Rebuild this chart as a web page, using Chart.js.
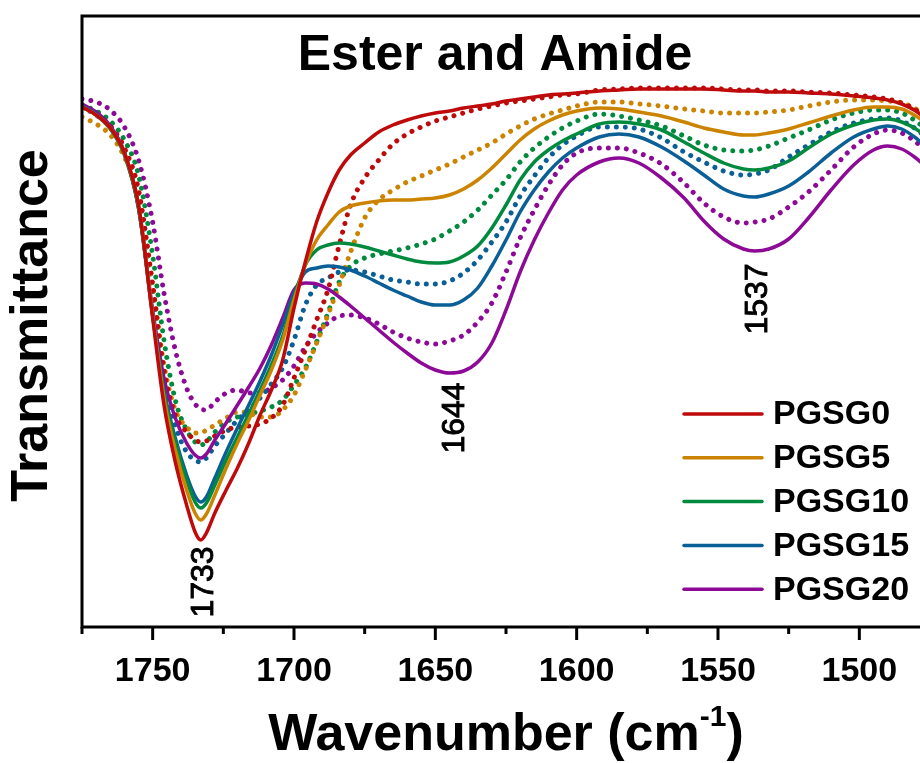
<!DOCTYPE html>
<html>
<head>
<meta charset="utf-8">
<script src="https://cdn.jsdelivr.net/npm/chart.js@4"></script>
<style>
  html, body { margin: 0; padding: 0; background: #fff; overflow: hidden; }
  #wrap { width: 935px; height: 763px; }
</style>
</head>
<body>
<div id="wrap"><canvas id="ftirChart" width="935" height="763"></canvas></div>
<script>
// wavenumbers (cm-1) shared by all spectra
const wavenumbers = [1775, 1770, 1765, 1760, 1755, 1750, 1746, 1742, 1738, 1735,
  1733, 1731, 1728, 1724, 1720, 1716, 1712, 1708, 1704, 1700,
  1696, 1692, 1688, 1684, 1680, 1675, 1670, 1665, 1660, 1655,
  1650, 1645, 1640, 1635, 1630, 1625, 1620, 1615, 1610, 1605,
  1600, 1592, 1585, 1578, 1570, 1562, 1555, 1548, 1541, 1537,
  1532, 1525, 1518, 1510, 1502, 1495, 1490, 1485, 1480, 1476];

// transmittance, arbitrary units (solid lines)
const pgsg0 = [520,512,499,474,422,309,222,165,122,95,87,94,114,137,159,184,212,237,267,319,365,405,434,457,472,484,495,502,507,511,514,516,519,521,523,526,528,530,532,533,534,536,537,538,538,538,538,537,536,536,535,535,534,533,531,529,527,523,516,507];
const pgsg5 = [520,512,499,474,422,312,229,177,137,114,107,113,132,159,184,207,232,257,287,327,362,387,402,415,421,424,426,427,427,428,429,432,438,447,459,473,487,498,506,512,516,519,518,515,511,505,499,495,492,492,494,498,504,511,517,520,520,518,511,503];
const pgsg10 = [520,512,498,472,419,312,234,185,147,125,119,124,142,167,190,213,237,262,291,329,362,377,382,384,383,380,376,372,368,365,364,365,371,381,399,422,447,465,477,486,493,503,505,503,497,485,474,464,458,457,459,466,479,493,502,507,508,505,498,490];
const pgsg15 = [521,513,499,473,419,312,237,189,152,131,125,130,149,175,199,222,246,272,302,334,355,359,361,360,357,351,344,337,331,325,322,322,327,339,361,387,415,437,455,469,479,490,493,490,480,466,452,438,431,430,433,441,455,474,490,498,501,498,489,479];
const pgsg20 = [523,515,501,475,419,317,249,209,184,172,169,173,187,204,222,240,259,282,309,337,344,343,338,330,321,309,297,285,274,264,257,254,256,265,284,317,355,387,414,437,452,465,469,464,449,429,406,388,378,376,378,388,409,437,462,477,481,478,469,459];

// dotted companions
const pgsg0Dot = [520,513,501,479,437,342,257,212,195,187,185,186,191,197,200,201,203,209,222,249,277,307,337,382,422,449,467,483,493,500,506,510,514,518,521,524,526,528,530,532,533,537,538,539,539,539,539,538,537,537,536,536,535,534,532,530,528,524,517,508];
const pgsg5Dot = [510,503,492,470,430,342,262,217,200,194,194,197,202,209,215,214,210,210,217,232,257,284,312,342,375,409,427,437,445,451,457,463,470,477,484,493,501,508,513,517,521,525,525,523,521,518,516,514,514,514,515,517,521,525,527,527,526,524,518,510];
const pgsg10Dot = [522,516,506,487,452,372,287,227,197,185,182,185,195,205,210,213,216,220,227,242,259,285,314,345,361,369,373,376,379,383,388,396,405,417,432,447,465,479,490,499,506,513,511,507,501,491,482,477,476,477,481,489,497,507,514,517,517,514,506,497];
const pgsg15Dot = [520,512,500,477,432,337,252,202,175,167,165,169,181,194,207,217,229,243,259,287,322,342,349,355,357,355,351,347,345,343,343,346,354,367,385,405,431,451,469,482,491,500,500,498,489,475,465,456,452,453,457,470,482,495,504,508,509,506,498,489];
const pgsg20Dot = [528,525,517,500,467,405,334,277,239,223,218,217,225,234,237,234,234,239,247,261,280,294,304,311,312,309,303,295,289,285,283,286,292,305,324,355,389,417,442,462,474,479,479,474,463,444,424,410,404,405,408,420,435,457,480,493,497,494,485,475];

const seriesNames = ["PGSG0", "PGSG5", "PGSG10", "PGSG15", "PGSG20"];
const solidSeries = [pgsg0, pgsg5, pgsg10, pgsg15, pgsg20];
const dottedSeries = [pgsg0Dot, pgsg5Dot, pgsg10Dot, pgsg15Dot, pgsg20Dot];
const seriesColors = ["#BE0A0A", "#CC8400", "#008A3E", "#0A5F96", "#8C0A96"];

const xTickValues = [1750, 1700, 1650, 1600, 1550, 1500];
const peakLabels = [1733, 1644, 1537];

const toPoints = (vals) => wavenumbers.map((w, i) => ({ x: w, y: vals[i] }));

const datasets = [];
// solid first so they sit on top
solidSeries.forEach((vals, i) => {
  datasets.push({
    label: seriesNames[i],
    data: toPoints(vals),
    borderColor: seriesColors[i],
    borderWidth: 3.5,
    pointRadius: 0,
    cubicInterpolationMode: "monotone",
  });
});
dottedSeries.forEach((vals, i) => {
  datasets.push({
    label: seriesNames[i] + " (dotted)",
    data: toPoints(vals),
    borderColor: seriesColors[i],
    borderWidth: 5,
    borderDash: [0.001, 9],
    borderCapStyle: "round",
    pointRadius: 0,
    cubicInterpolationMode: "monotone",
  });
});

const FONT = "'Liberation Sans', Arial, sans-serif";

// draws frame, ticks, titles, peak labels and legend
const decorations = {
  id: "decorations",
  afterDraw(chart) {
    const ctx = chart.ctx;
    const area = chart.chartArea;
    const xs = chart.scales.x;
    ctx.save();
    ctx.strokeStyle = "#000";
    ctx.fillStyle = "#000";

    // frame
    ctx.lineWidth = 3;
    ctx.strokeRect(area.left, area.top, area.right - area.left, area.bottom - area.top);

    // major + minor ticks
    ctx.lineCap = "butt";
    for (let v = 1500; v <= 1775; v += 25) {
      const px = xs.getPixelForValue(v);
      const len = v % 50 === 0 ? 13 : 7;
      ctx.beginPath();
      ctx.moveTo(px, area.bottom);
      ctx.lineTo(px, area.bottom + len);
      ctx.stroke();
    }

    // tick labels
    ctx.font = "bold 34px " + FONT;
    ctx.textAlign = "center";
    ctx.textBaseline = "alphabetic";
    xTickValues.forEach((v) => {
      ctx.fillText(String(v), xs.getPixelForValue(v), 681);
    });

    // x title with superscript
    const mainTxt = "Wavenumber (cm";
    const supTxt = "-1";
    const endTxt = ")";
    ctx.font = "bold 52px " + FONT;
    const w1 = ctx.measureText(mainTxt).width;
    const w3 = ctx.measureText(endTxt).width;
    ctx.font = "bold 30px " + FONT;
    const w2 = ctx.measureText(supTxt).width;
    let x0 = 506 - (w1 + w2 + w3) / 2;
    ctx.textAlign = "left";
    ctx.font = "bold 52px " + FONT;
    ctx.fillText(mainTxt, x0, 750);
    ctx.font = "bold 30px " + FONT;
    ctx.fillText(supTxt, x0 + w1, 726);
    ctx.font = "bold 52px " + FONT;
    ctx.fillText(endTxt, x0 + w1 + w2, 750);

    // y title
    ctx.save();
    ctx.translate(33, (area.top + area.bottom) / 2 + 4);
    ctx.rotate(-Math.PI / 2);
    ctx.textAlign = "center";
    ctx.textBaseline = "middle";
    ctx.font = "bold 52px " + FONT;
    ctx.fillText("Transmittance", 0, 0);
    ctx.restore();

    // chart title
    ctx.textAlign = "center";
    ctx.textBaseline = "alphabetic";
    ctx.font = "bold 50px " + FONT;
    ctx.fillText("Ester and Amide", 495, 70);

    // peak labels, rotated (slightly heavier than regular)
    const peakY = [582, 418, 299];
    ctx.font = "32px " + FONT;
    ctx.lineWidth = 0.9;
    ctx.strokeStyle = "#000";
    peakLabels.forEach((p, i) => {
      ctx.save();
      ctx.translate(xs.getPixelForValue(p) + 3, peakY[i]);
      ctx.rotate(-Math.PI / 2);
      ctx.textAlign = "center";
      ctx.textBaseline = "middle";
      ctx.fillText(String(p), 0, 0);
      ctx.strokeText(String(p), 0, 0);
      ctx.restore();
    });

    // legend (solid series only)
    ctx.font = "bold 34px " + FONT;
    ctx.textAlign = "left";
    ctx.textBaseline = "middle";
    seriesNames.forEach((name, i) => {
      const y = 414 + i * 43.8;
      ctx.strokeStyle = seriesColors[i];
      ctx.lineWidth = 3.5;
      ctx.lineCap = "round";
      ctx.beginPath();
      ctx.moveTo(684, y);
      ctx.lineTo(762, y);
      ctx.stroke();
      ctx.fillStyle = "#000";
      ctx.fillText(name, 773, y + 1);
    });
    ctx.restore();
  },
};

new Chart(document.getElementById("ftirChart").getContext("2d"), {
  type: "line",
  data: { datasets: datasets },
  options: {
    responsive: false,
    animation: false,
    layout: { padding: { left: 82, top: 16, right: 5, bottom: 136 } },
    scales: {
      x: { type: "linear", reverse: true, min: 1475, max: 1775, display: false },
      y: { type: "linear", min: 0, max: 611, display: false },
    },
    plugins: {
      legend: { display: false },
      tooltip: { enabled: false },
    },
  },
  plugins: [decorations],
});
</script>
</body>
</html>
